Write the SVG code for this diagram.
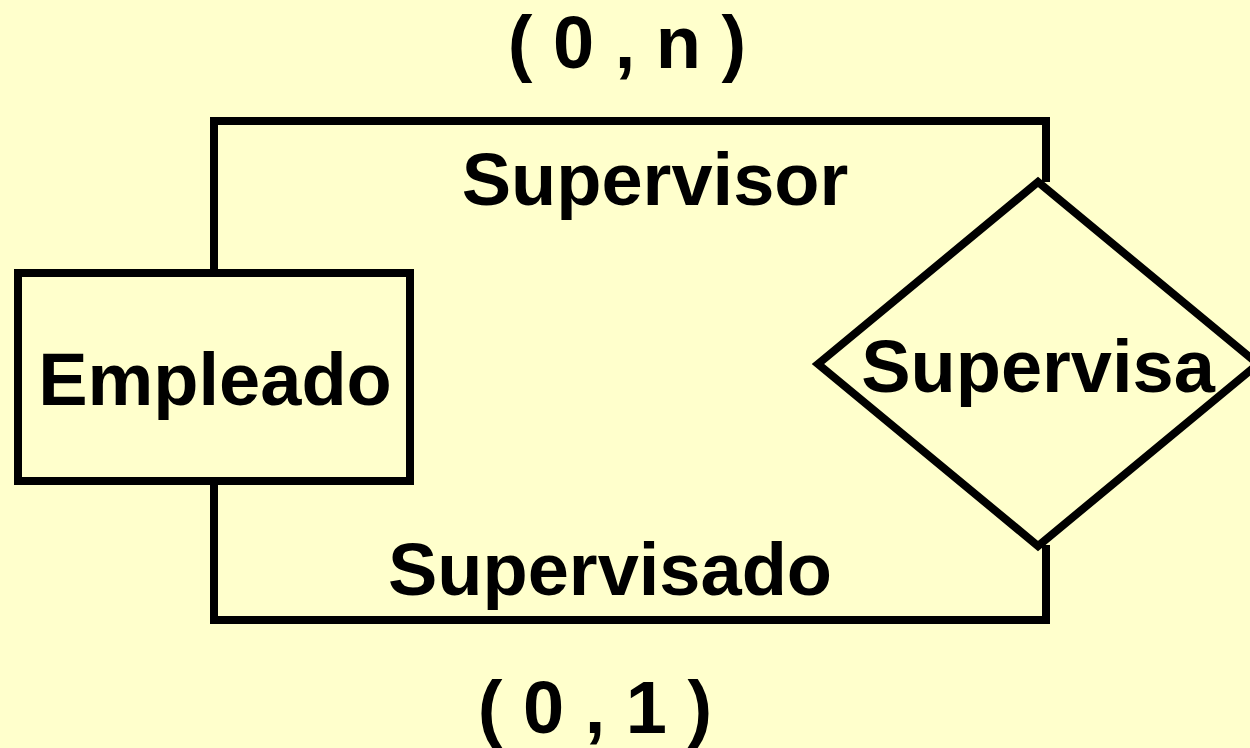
<svg xmlns="http://www.w3.org/2000/svg" width="1250" height="748" viewBox="0 0 1250 748">
  <style>
    .shape { fill: none; stroke: #000; stroke-width: 8; }
    .link { fill: none; stroke: #000; stroke-width: 8; stroke-linejoin: miter; }
    .lbl { font-family: "Liberation Sans", Arial, sans-serif; font-weight: bold; font-size: 74px; fill: #000; text-anchor: middle; }
  </style>
  <rect x="0" y="0" width="1250" height="748" fill="#FFFFCC"/>

  <!-- connectors: recursive relationship loops -->
  <g id="connectors">
    <polyline class="link" points="214,273 214,121 1046,121 1046,182"/>
    <polyline class="link" points="214,481 214,620 1046,620 1046,545"/>
  </g>

  <!-- entity -->
  <g id="empleado">
    <rect class="shape" x="18" y="273" width="392" height="208"/>
    <text class="lbl" x="215" y="405">Empleado</text>
  </g>

  <!-- relationship -->
  <g id="supervisa">
    <polygon class="shape" points="818,364 1038,182 1258,364 1038,546"/>
    <text class="lbl" x="1038" y="392">Supervisa</text>
  </g>

  <!-- role names and cardinalities -->
  <g id="rol-supervisor">
    <text class="lbl" x="655" y="205">Supervisor</text>
    <text class="lbl" x="627" y="68">( 0 , n )</text>
  </g>
  <g id="rol-supervisado">
    <text class="lbl" x="610" y="595">Supervisado</text>
    <text class="lbl" x="595" y="733">( 0 , 1 )</text>
  </g>
</svg>
